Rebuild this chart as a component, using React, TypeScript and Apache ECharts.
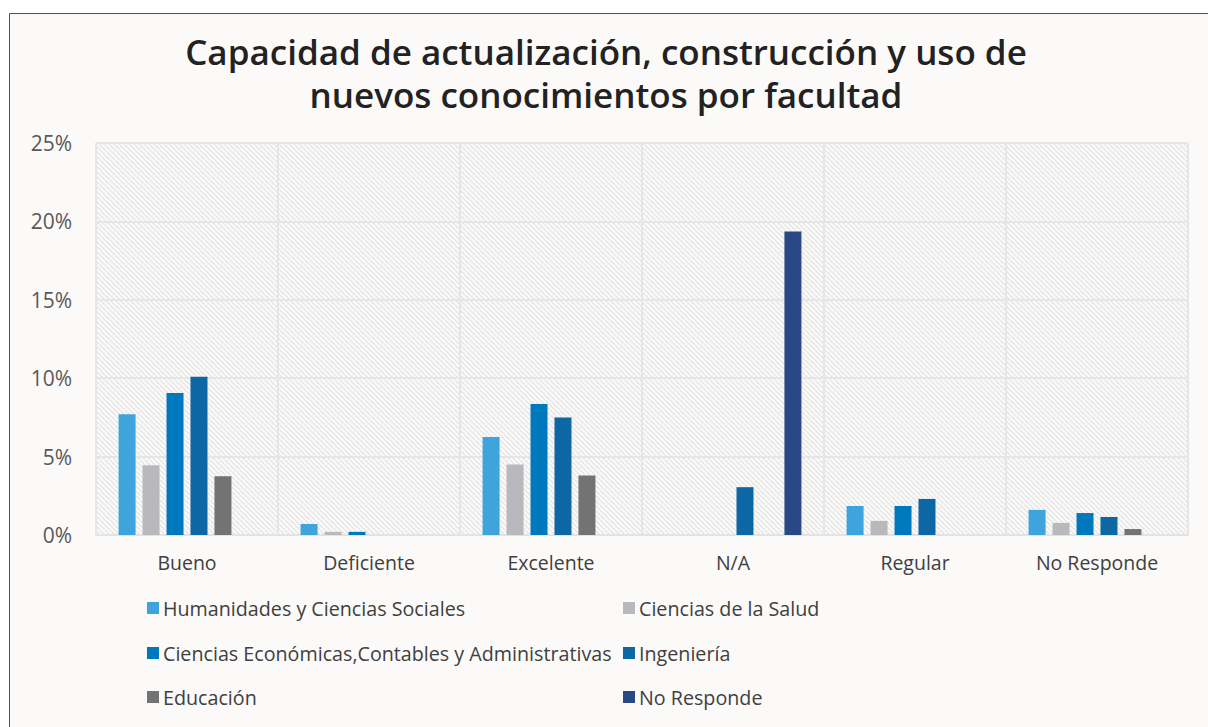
import React, { useEffect, useRef } from "react";
import * as echarts from "echarts";

const categories = ["Bueno", "Deficiente", "Excelente", "N/A", "Regular", "No Responde"];
const seriesNames = [
  "Humanidades y Ciencias Sociales",
  "Ciencias de la Salud",
  "Ciencias Económicas,Contables y Administrativas",
  "Ingeniería",
  "Educación",
  "No Responde",
];
const humanidades = [7.7, 0.7, 6.25, 0, 1.85, 1.6];
const salud = [4.45, 0.2, 4.5, 0, 0.9, 0.77];
const economicas = [9.05, 0.2, 8.35, 0, 1.85, 1.4];
const ingenieria = [10.1, 0, 7.5, 3.05, 2.3, 1.15];
const educacion = [3.75, 0, 3.8, 0, 0, 0.38];
const noResponde = [0, 0, 0, 19.35, 0, 0];
const yTicks = [0, 5, 10, 15, 20, 25];
const colors = ["#3FA4DB", "#B9B8BC", "#0078BE", "#0C67A4", "#737373", "#2A4886"];

const seriesData = [humanidades, salud, economicas, ingenieria, educacion, noResponde];

function makeHatch(): string {
  const s = 5;
  const c = document.createElement("canvas");
  c.width = s;
  c.height = s;
  const ctx = c.getContext("2d");
  if (!ctx) return "";
  ctx.fillStyle = "#FCFBFA";
  ctx.fillRect(0, 0, s, s);
  ctx.strokeStyle = "#E8E7E7";
  ctx.lineWidth = 1.6;
  for (let k = -s; k <= 2 * s; k += s) {
    ctx.beginPath();
    ctx.moveTo(k, 0);
    ctx.lineTo(k + s, s);
    ctx.stroke();
  }
  return c.toDataURL();
}

export default function App() {
  const ref = useRef<HTMLDivElement>(null);
  useEffect(() => {
    if (!ref.current) return;
    const chart = echarts.init(ref.current, undefined, { renderer: "svg" });
    const gridLeft = 96, gridTop = 143, gridW = 1092, gridH = 392;
    const hatch = makeHatch();
    const legendPos = [
      [147, 598], [623, 598],
      [147, 643], [623, 643],
      [147, 687], [623, 687],
    ];
    chart.setOption({
      animation: false,
      backgroundColor: "#FFFFFF",
      title: {
        text: "Capacidad de actualización, construcción y uso de\nnuevos conocimientos por facultad",
        left: 601,
        textAlign: "center",
        top: 25,
        textStyle: {
          fontFamily: "Open Sans",
          fontSize: 35,
          fontWeight: 600,
          color: "#222222",
          lineHeight: 43,
        },
      },
      graphic: [
        {
          type: "rect",
          z: -10,
          shape: { x: 9.5, y: 13.5, width: 1220, height: 730 },
          style: { fill: "#FBFAF9", stroke: "#44546A", lineWidth: 1 },
        },
        {
          type: "rect",
          z: -9,
          shape: { x: gridLeft, y: gridTop, width: gridW, height: gridH },
          style: { fill: hatch ? { image: hatch, repeat: "repeat" } : "#F4F3F3" },
        },
      ],
      grid: { left: gridLeft, top: gridTop, width: gridW, height: gridH },
      legend: seriesNames.map((name, i) => ({
        data: [name],
        left: legendPos[i][0],
        top: legendPos[i][1],
        padding: 0,
        itemWidth: 12,
        itemHeight: 12,
        itemGap: 5,
        icon: "rect",
        textStyle: { fontFamily: "Open Sans", fontSize: 19.7, color: "#404040", padding: [0, 0, 0, -1] },
      })),
      xAxis: {
        type: "category",
        data: categories,
        axisTick: { show: false },
        axisLine: { lineStyle: { color: "#E3E3E3", width: 2 } },
        axisLabel: { fontFamily: "Open Sans", fontSize: 19.5, color: "#404040", margin: 17 },
        splitLine: { show: true, interval: 0, lineStyle: { color: "#E6E6E6", width: 2 } },
      },
      yAxis: {
        type: "value",
        min: 0,
        max: 25,
        interval: 5,
        axisLine: { show: false },
        axisTick: { show: false },
        axisLabel: {
          fontFamily: "Open Sans",
          fontSize: 21,
          color: "#595959",
          margin: 24,
          formatter: (v: number) => (yTicks.includes(v) ? v + "%" : ""),
        },
        splitLine: { lineStyle: { color: "#E6E6E6", width: 2 } },
      },
      series: seriesNames.map((name, i) => ({
        name,
        type: "bar",
        data: seriesData[i],
        barWidth: 17,
        barGap: "41%",
        itemStyle: { color: colors[i] },
      })),
    });
    return () => chart.dispose();
  }, []);
  return (
    <div
      ref={ref}
      style={{ position: "fixed", left: 0, top: 0, width: 1208, height: 727 }}
    />
  );
}
